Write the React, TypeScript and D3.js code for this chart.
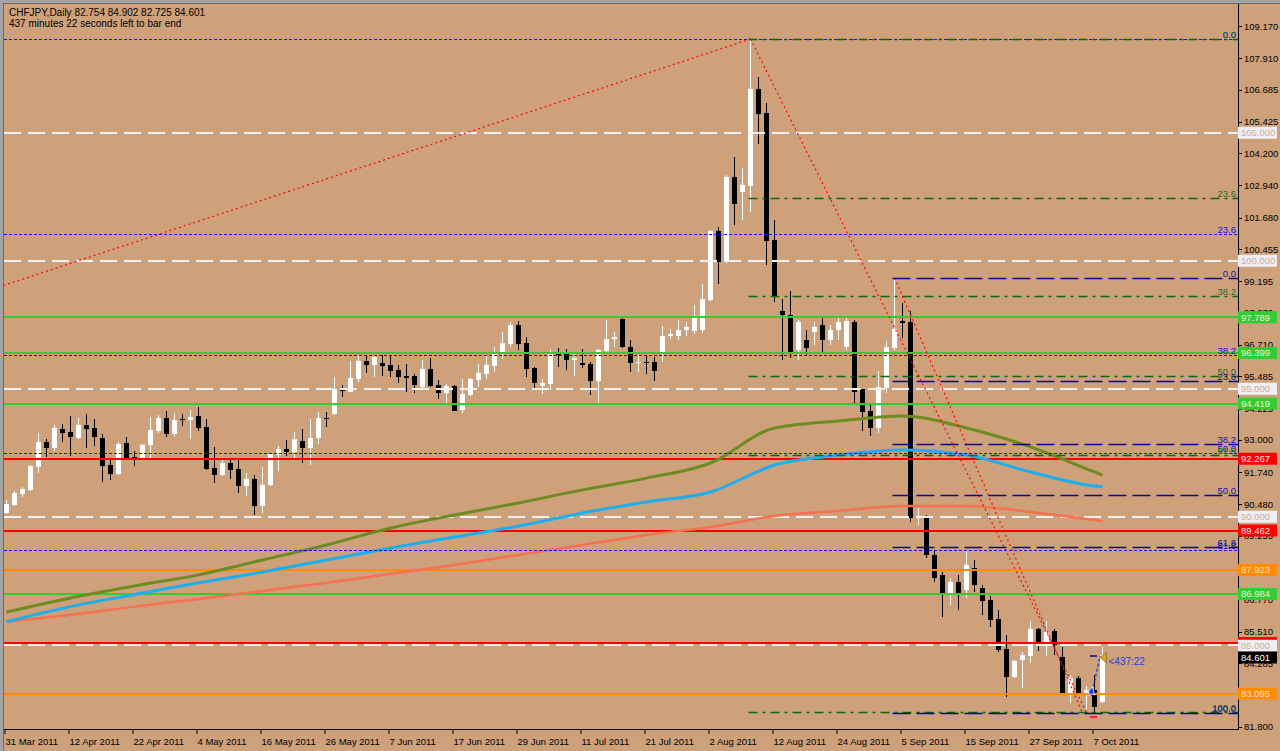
import React from "react";
import * as d3 from "d3";

// CHFJPY daily, 31 Mar 2011 .. 10 Oct 2011 (138 bars)
const opens = [
  90.15, 90.46, 90.89, 91.05, 91.94, 92.92, 92.69, 93.43, 93.31, 93.08,
  93.59, 93.47, 93.08, 92.02, 91.67, 92.88, 92.34, 92.26, 92.8, 93.35,
  93.86, 93.23, 93.82, 93.78, 93.94, 93.51, 91.9, 91.63, 92.1, 91.87,
  91.2, 91.48, 90.42, 91.24, 92.41, 92.65, 92.53, 92.96, 92.69, 93.08,
  93.86, 94.01, 95.0, 94.87, 95.38, 96.09, 95.93, 96.01, 95.93, 95.73,
  95.5, 95.5, 95.07, 95.77, 95.15, 94.84, 95.11, 94.17, 94.76, 95.34,
  95.58, 95.89, 96.4, 96.76, 97.49, 96.79, 95.81, 95.11, 95.19, 96.4,
  96.4, 96.12, 96.01, 95.97, 95.3, 96.47, 96.94, 97.73, 96.63, 96.04,
  96.05, 96.05, 96.44, 97.06, 97.06, 97.3, 97.26, 97.3, 98.47, 101.16,
  99.95, 103.27, 102.69, 102.92, 106.71, 105.77, 100.81, 98.04, 97.88, 96.51,
  96.9, 97.22, 97.49, 96.9, 97.3, 96.63, 97.61, 95.0, 94.13, 93.47,
  95.03, 96.59, 97.65, 97.61, 89.95, 89.99, 88.51, 87.73, 86.94, 87.45,
  87.14, 88.0, 87.22, 86.75, 86.0, 84.83, 83.74, 84.4, 84.56, 85.61,
  84.95, 85.54, 84.52, 83.08, 83.7, 83.08, 83.24, 82.754,
];
const highs = [
  90.66, 91.01, 91.16, 92.02, 93.27, 93.04, 93.59, 93.62, 93.94, 93.86,
  94.01, 93.82, 93.23, 92.22, 92.92, 93.12, 92.57, 92.84, 93.9, 93.98,
  94.13, 94.05, 94.01, 94.17, 94.29, 93.82, 92.73, 92.26, 92.22, 92.22,
  91.71, 91.63, 91.94, 92.49, 92.76, 93.0, 93.31, 93.43, 93.82, 94.09,
  94.09, 95.46, 95.15, 96.09, 96.32, 96.32, 96.32, 96.32, 96.32, 95.93,
  95.97, 95.58, 96.12, 96.2, 95.34, 95.19, 95.15, 95.38, 95.42, 95.97,
  96.28, 96.63, 97.22, 97.61, 97.65, 97.02, 95.85, 95.38, 96.55, 96.59,
  96.55, 96.36, 96.55, 96.05, 96.55, 97.69, 97.22, 97.76, 96.9, 96.32,
  96.32, 96.24, 97.45, 97.33, 97.69, 97.61, 98.27, 99.09, 101.2, 101.32,
  103.35, 104.05, 103.62, 108.66, 107.18, 106.16, 101.59, 98.51, 98.82, 97.69,
  97.3, 97.61, 97.76, 97.49, 97.76, 97.76, 97.69, 95.0, 94.37, 95.7,
  96.87, 99.29, 98.35, 98.04, 90.34, 90.07, 88.7, 87.84, 87.61, 87.73,
  88.7, 88.31, 87.33, 86.9, 86.36, 85.38, 84.4, 84.72, 85.93, 85.65,
  85.93, 85.61, 84.91, 83.82, 83.78, 83.39, 83.82, 84.902,
];
const lows = [
  90.11, 90.42, 90.77, 91.01, 91.71, 92.34, 92.57, 92.92, 92.38, 93.04,
  92.69, 92.76, 91.36, 91.44, 91.63, 92.22, 91.98, 92.22, 92.22, 93.27,
  93.12, 93.16, 93.55, 93.04, 93.35, 91.83, 91.32, 91.59, 91.48, 90.93,
  90.81, 90.07, 90.15, 91.2, 91.79, 92.38, 92.26, 92.1, 92.02, 92.84,
  93.51, 93.98, 94.68, 94.87, 95.26, 95.62, 95.46, 95.5, 95.46, 95.22,
  94.87, 94.84, 94.99, 95.07, 94.6, 94.44, 94.13, 94.05, 94.72, 95.07,
  95.38, 95.65, 96.16, 96.63, 96.51, 95.46, 94.99, 94.79, 94.95, 95.85,
  95.73, 95.5, 95.81, 94.76, 94.44, 96.44, 96.63, 96.59, 95.65, 95.65,
  95.58, 95.3, 96.05, 96.94, 96.9, 97.06, 97.14, 97.18, 98.43, 99.09,
  99.91, 101.4, 101.59, 101.9, 104.56, 99.83, 98.39, 96.12, 96.2, 96.12,
  96.28, 96.71, 96.44, 96.71, 96.9, 96.51, 94.44, 93.35, 93.16, 93.27,
  94.84, 96.51, 96.98, 89.8, 89.68, 88.39, 87.47, 86.08, 86.55, 86.36,
  86.83, 87.06, 86.16, 85.69, 84.72, 82.96, 83.7, 83.31, 84.29, 84.76,
  84.56, 84.6, 83.08, 82.72, 83.08, 82.45, 82.38, 82.725,
];
const closes = [
  90.5, 90.93, 91.09, 91.98, 92.92, 92.69, 93.47, 93.27, 93.12, 93.59,
  93.43, 93.12, 91.98, 91.67, 92.84, 92.3, 92.26, 92.8, 93.39, 93.86,
  93.23, 93.78, 93.78, 93.9, 93.47, 91.87, 91.63, 92.1, 91.83, 91.2,
  91.48, 90.42, 91.24, 92.45, 92.65, 92.53, 93.04, 92.69, 93.08, 93.86,
  93.82, 95.0, 94.91, 95.42, 96.09, 95.93, 96.24, 95.89, 95.69, 95.46,
  95.42, 95.15, 95.77, 95.11, 94.84, 95.11, 94.13, 94.79, 95.38, 95.62,
  95.93, 96.4, 96.79, 97.49, 96.76, 95.77, 95.23, 95.23, 96.36, 96.32,
  96.12, 96.2, 95.93, 95.3, 96.51, 96.94, 97.02, 96.63, 96.01, 96.06,
  96.01, 95.69, 97.06, 97.14, 97.3, 97.41, 97.8, 98.51, 101.16, 99.95,
  103.27, 102.22, 102.96, 106.71, 105.73, 100.77, 98.58, 97.88, 96.44, 97.61,
  96.59, 97.41, 96.9, 97.3, 97.61, 97.65, 94.87, 94.09, 93.47, 95.07,
  96.63, 97.34, 97.57, 89.95, 89.99, 88.51, 87.62, 86.94, 87.45, 86.94,
  88.12, 87.33, 86.71, 85.97, 84.79, 83.74, 84.37, 84.6, 85.61, 84.95,
  85.5, 84.99, 83.08, 83.7, 83.08, 83.24, 82.58, 84.601,
];

const dateLabels = [
  "31 Mar 2011", "12 Apr 2011", "22 Apr 2011", "4 May 2011", "16 May 2011",
  "26 May 2011", "7 Jun 2011", "17 Jun 2011", "29 Jun 2011", "11 Jul 2011",
  "21 Jul 2011", "2 Aug 2011", "12 Aug 2011", "24 Aug 2011", "5 Sep 2011",
  "15 Sep 2011", "27 Sep 2011", "7 Oct 2011",
];
// tick labels; 87.995 and 83.025 sit fully under line labels and are not shown
const priceTicks = [
  109.17, 107.91, 106.685, 105.425, 104.2, 102.94, 101.68, 100.455, 99.195,
  97.97, 96.71, 95.485, 94.225, 93.0, 91.74, 90.48, 89.255, 86.77,
  85.51, 84.285, 81.8,
];
const hiddenTicks = [87.995, 83.025];

// moving averages, read at every labelled date (and the last bar)
const maIndex = [0, 8, 16, 24, 32, 40, 48, 56, 64, 72, 80, 88, 96, 104, 112, 120, 128, 136, 137];
const maOlive = [86.28, 86.83, 87.3, 87.73, 88.31, 88.9, 89.56, 90.07, 90.54, 91.05, 91.51, 92.1, 93.47, 93.74, 93.94, 93.47, 92.73, 91.75, 91.63];
const maBlue = [85.9, 86.49, 86.96, 87.42, 87.84, 88.31, 88.78, 89.21, 89.64, 90.15, 90.58, 90.97, 92.02, 92.41, 92.61, 92.41, 91.75, 91.2, 91.17];
const maSalmon = [85.9, 86.17, 86.49, 86.79, 87.1, 87.42, 87.77, 88.12, 88.51, 88.9, 89.29, 89.6, 90.03, 90.23, 90.42, 90.42, 90.19, 89.87, 89.83];

const whiteLevels = [105, 100, 95, 90, 85];
const greenLevels = [97.789, 96.399, 94.419, 86.984];
const redLevels = [85.07, 92.267, 89.462];
const orangeLevels = [87.923, 83.095];
const bidPrice = 84.601;

const fiboLevels = [0, 23.6, 38.2, 50, 61.8, 100];
const fibos = [
  { hi: 108.66, lo: 76.34, from: -1, color: "#1010F0", label: "#1010F0", dash: "3,2", width: 1, levels: [0, 23.6, 38.2, 50, 61.8], trend: [[-1, 98.97], [93, 108.66]] },
  { hi: 108.66, lo: 82.37, from: 93, color: "#0A6A0A", label: "#1F6A1F", dash: "9,5,3,5", width: 1.3, levels: fiboLevels, trend: [[93, 108.66], [135, 82.37]] },
  { hi: 99.33, lo: 82.34, from: 111, color: "#0A0A8C", label: "#12129A", dash: "18,6", width: 1.6, levels: fiboLevels, trend: [[111, 99.33], [134.5, 82.34]] },
];

const BG = "#CFA17B";
const FONT = "'Liberation Sans', Arial, sans-serif";
const LEFT = 4, RIGHT = 1238, TOP = 4, BOTTOM = 729;

export default function App() {
  const x = d3.scaleLinear().domain([0, 137]).range([6.5, 1102.5]);
  const y = d3.scaleLinear().domain([81.8, 109.17]).range([726.7, 26]);
  const line = d3.line<number>().x((_, k) => x(maIndex[k])).y((v) => y(v)).curve(d3.curveMonotoneX);
  const hy = (p: number) => Math.round(y(p));

  const box = (p: number, fill: string, txtColor: string, key: string, dy = 0, showText = true) => {
    const cy = y(p) + dy;
    return (
      <g key={key}>
        <rect x={RIGHT} y={cy - 6} width={39} height={12} fill={fill} />
        {showText && (
          <text x={RIGHT + 3} y={cy + 3.5} fontSize={9.5} fill={txtColor} fontFamily={FONT}>
            {p.toFixed(3)}
          </text>
        )}
      </g>
    );
  };

  return (
    <svg width={1280} height={751} style={{ position: "absolute", left: 0, top: 0, display: "block" }}>
      <defs>
        <clipPath id="plot">
          <rect x={LEFT} y={TOP} width={RIGHT - LEFT} height={BOTTOM - TOP} />
        </clipPath>
      </defs>
      <rect width={1280} height={751} fill={BG} />
      <rect width={1280} height={3} fill="#A4A4A4" />
      <rect width={3} height={751} fill="#A4A4A4" />
      <line x1={3} x2={1280} y1={3.5} y2={3.5} stroke="#6A6A6A" />
      <line x1={3.5} x2={3.5} y1={3} y2={751} stroke="#6A6A6A" />

      <g clipPath="url(#plot)">
        {/* candles */}
        <g shapeRendering="crispEdges">
          {opens.map((o, i) => {
            const c = closes[i];
            const up = c >= o;
            const col = up ? "#FFFFFF" : "#000000";
            const top = y(Math.max(o, c));
            const h = Math.max(1, Math.abs(y(o) - y(c)));
            return (
              <g key={i}>
                <line x1={x(i)} x2={x(i)} y1={y(highs[i])} y2={y(lows[i])} stroke={col} />
                <rect x={x(i) - 2.5} y={top} width={5} height={h} fill={col} />
              </g>
            );
          })}
        </g>

        {/* horizontal levels */}
        {whiteLevels.map((p) => (
          <line key={"w" + p} x1={LEFT} x2={RIGHT} y1={hy(p)} y2={hy(p)} stroke="#F4F0EE" strokeWidth={2} strokeDasharray="17,7" />
        ))}
        {greenLevels.map((p) => (
          <line key={"g" + p} x1={LEFT} x2={RIGHT} y1={hy(p)} y2={hy(p)} stroke="#32CD32" strokeWidth={2} />
        ))}
        {orangeLevels.map((p) => (
          <line key={"o" + p} x1={LEFT} x2={RIGHT} y1={hy(p)} y2={hy(p)} stroke="#FF8C00" strokeWidth={2} />
        ))}
        {redLevels.map((p) => (
          <line key={"r" + p} x1={LEFT} x2={RIGHT} y1={hy(p)} y2={hy(p)} stroke="#FF0000" strokeWidth={2} />
        ))}

        {/* moving averages */}
        <path d={line(maSalmon) ?? ""} fill="none" stroke="#F8704F" strokeWidth={2.5} />
        <path d={line(maOlive) ?? ""} fill="none" stroke="#6E8B22" strokeWidth={3} />
        <path d={line(maBlue) ?? ""} fill="none" stroke="#1CAEEF" strokeWidth={3} />

        {/* fibonacci retracements */}
        {fibos.map((f, n) => (
          <g key={"f" + n}>
            <line
              x1={x(f.trend[0][0])} y1={y(f.trend[0][1])}
              x2={x(f.trend[1][0])} y2={y(f.trend[1][1])}
              stroke="#FF0000" strokeWidth={1.2} strokeDasharray="2,3"
            />
            {f.levels.map((lv) => {
              const p = f.hi - ((f.hi - f.lo) * lv) / 100;
              const yy = hy(p) + 0.5;
              return (
                <g key={lv}>
                  <line x1={Math.max(LEFT, x(f.from) - 2)} x2={RIGHT} y1={yy} y2={yy} stroke={f.color} strokeWidth={f.width} strokeDasharray={f.dash} />
                  <text x={RIGHT - 2} y={yy - 2} textAnchor="end" fontSize={9.5} fill={f.label} fontFamily={FONT}>
                    {lv.toFixed(1)}
                  </text>
                </g>
              );
            })}
          </g>
        ))}

        {/* current bar markers */}
        <line x1={x(136) - 4.5} x2={x(136) + 2.5} y1={hy(84.55)} y2={hy(84.55)} stroke="#0A0A8C" strokeWidth={1.5} />
        <line x1={x(136) - 4.5} x2={x(136) + 2.5} y1={hy(82.18)} y2={hy(82.18)} stroke="#FF0000" strokeWidth={1.5} />
        <line x1={x(136) - 3} y1={y(83.0)} x2={x(137) - 2.5} y2={y(84.56)} stroke="#1030F0" strokeWidth={1.2} strokeDasharray="3,2" />
        <polygon
          points={`${x(136) - 6},${y(83.16) - 1} ${x(136) - 2},${y(83.16) - 5} ${x(136) - 1},${y(83.16) - 1} ${x(136)},${y(83.16) + 3} ${x(136) - 3},${y(83.16) + 2} ${x(136) - 5},${y(83.16) + 4}`}
          fill="#1840F0" stroke="#FFFFFF" strokeWidth={0.8}
        />
        <polygon
          points={`${x(137) - 2.5},${y(bidPrice) + 2.5} ${x(137) + 4},${y(bidPrice) - 2.5} ${x(137) + 4},${y(bidPrice) + 7.5}`}
          fill="#E3A623" stroke="#8A6A18" strokeWidth={0.8}
        />
        <text x={x(137) + 6} y={y(bidPrice) + 10} fontSize={10} fill="#1E3CE8" fontFamily={FONT}>
          {"<437:22"}
        </text>
      </g>

      {/* axes */}
      <line x1={RIGHT + 0.5} x2={RIGHT + 0.5} y1={TOP} y2={BOTTOM + 1} stroke="#000" />
      <line x1={LEFT} x2={RIGHT + 1} y1={BOTTOM + 0.5} y2={BOTTOM + 0.5} stroke="#000" />
      {[...priceTicks, ...hiddenTicks].map((p) => (
        <line key={"tk" + p} x1={RIGHT + 1} x2={RIGHT + 4} y1={hy(p) + 0.5} y2={hy(p) + 0.5} stroke="#000" />
      ))}
      {priceTicks.map((p) => (
        <text key={"t" + p} x={RIGHT + 6} y={y(p) + 3.5} fontSize={9.5} fill="#000" fontFamily={FONT}>
          {p.toFixed(3)}
        </text>
      ))}
      {dateLabels.map((d, k) => (
        <g key={d}>
          <line x1={x(k * 8) - 1.5} x2={x(k * 8) - 1.5} y1={BOTTOM + 1} y2={BOTTOM + 5} stroke="#000" />
          <text x={x(k * 8) - 1} y={745} fontSize={9.5} fill="#000" fontFamily={FONT}>
            {d}
          </text>
        </g>
      ))}

      {/* price labels of the horizontal lines */}
      {redLevels.filter((p) => p === 85.07).map((p) => box(p, "#FF0000", "#FFE0E0", "rbh", 0, false))}
      {whiteLevels.filter((p) => p !== 85).map((p) => box(p, "#EEEEF6", "#D2AE8C", "wb" + p))}
      {greenLevels.map((p) => box(p, "#32CD32", "#E8F0D8", "gb" + p))}
      {orangeLevels.map((p) => box(p, "#FF8C00", "#F8DCC0", "ob" + p))}
      {redLevels.filter((p) => p !== 85.07).map((p) => box(p, "#FF0000", "#FFE0E0", "rb" + p))}
      {box(85, "#EEEEF6", "#D2AE8C", "wb85", 1)}
      {box(bidPrice, "#000000", "#FFFFFF", "bid", 2.5)}

      {/* title */}
      <text x={9} y={16} fontSize={10} fill="#000" fontFamily={FONT}>
        CHFJPY,Daily  82.754 84.902 82.725 84.601
      </text>
      <text x={9} y={26.5} fontSize={10} fill="#000" fontFamily={FONT}>
        437 minutes 22 seconds left to bar end
      </text>
    </svg>
  );
}
